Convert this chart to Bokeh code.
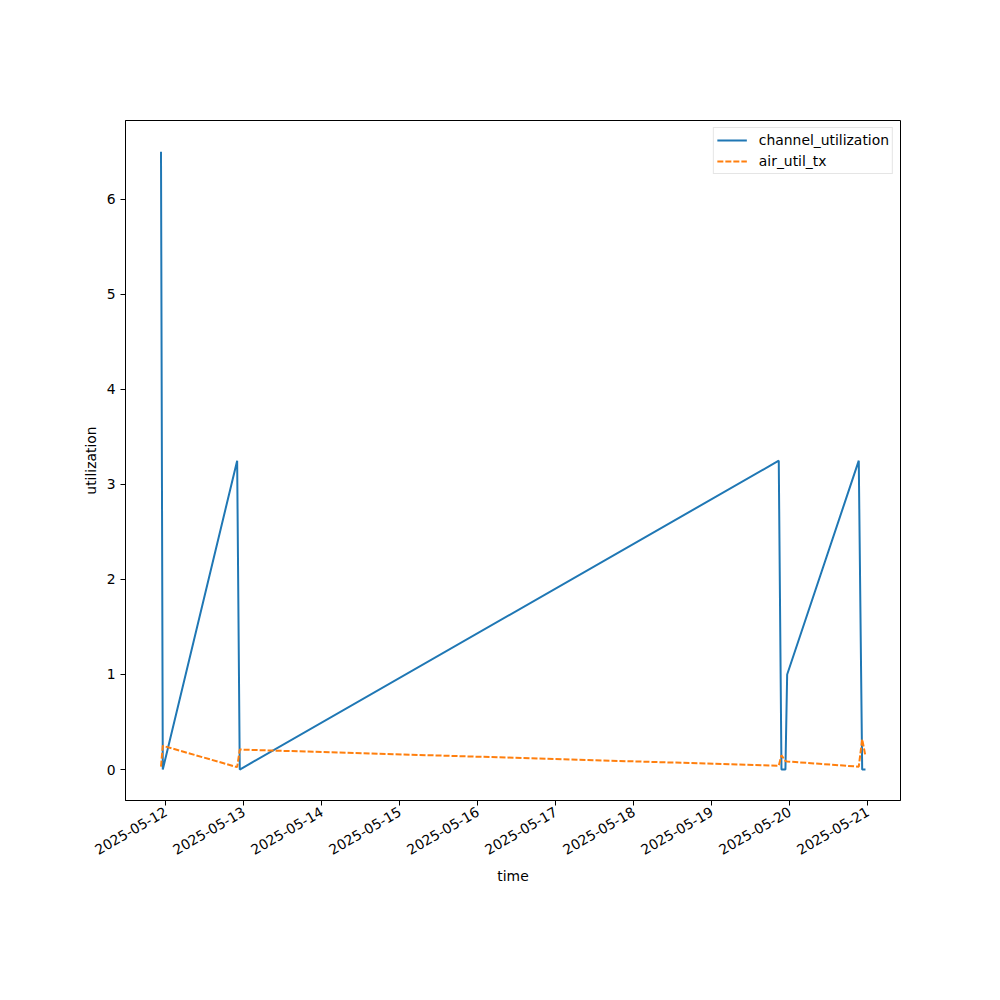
import math
import pandas as pd
from bokeh.plotting import figure
from bokeh.models import Range1d, DatetimeTickFormatter, FixedTicker, Legend, LegendItem
from bokeh.embed import file_html
from bokeh.resources import INLINE

times = ["2025-05-11 22:28", "2025-05-11 23:01", "2025-05-12 21:54", "2025-05-12 22:42",
         "2025-05-19 20:33", "2025-05-19 21:23", "2025-05-19 22:36", "2025-05-19 23:08",
         "2025-05-20 21:10", "2025-05-20 22:13", "2025-05-20 23:14"]
channel_utilization = [6.5, 0.0, 3.25, 0.0, 3.25, 0.0, 0.0, 1.0, 3.25, 0.0, 0.0]
air_util_tx = [0.03, 0.25, 0.025, 0.21, 0.04, 0.15, 0.09, 0.085, 0.03, 0.32, 0.14]
tick_days = ["2025-05-12", "2025-05-13", "2025-05-14", "2025-05-15", "2025-05-16",
             "2025-05-17", "2025-05-18", "2025-05-19", "2025-05-20", "2025-05-21"]
y_ticks = [0, 1, 2, 3, 4, 5, 6]

t = pd.to_datetime(times)
ticks_ms = [pd.Timestamp(d).value / 1e6 for d in tick_days]
day_ms = 86400000.0
x0 = ticks_ms[0]

FS = "13.9px"

p = figure(width=984, height=984, output_backend="svg", toolbar_location=None,
           x_axis_type="datetime",
           x_range=Range1d(x0 - 0.519 * day_ms, x0 + 9.417 * day_ms),
           y_range=Range1d(-0.326, 6.83))
p.min_border_left = 125
p.min_border_right = 84
p.min_border_top = 120
p.min_border_bottom = 184
p.xgrid.visible = False
p.ygrid.visible = False
p.outline_line_color = "black"
p.outline_line_width = 1

r1 = p.line(t, channel_utilization, line_color="#1f77b4", line_width=2)
r2 = p.line(t, air_util_tx, line_color="#ff7f0e", line_width=2, line_dash="6 2")

p.xaxis.ticker = FixedTicker(ticks=ticks_ms)
p.xaxis.formatter = DatetimeTickFormatter(days="%Y-%m-%d", months="%Y-%m-%d",
                                          hours="%Y-%m-%d", years="%Y-%m-%d")
p.xaxis.major_label_orientation = math.pi / 6
p.yaxis.ticker = FixedTicker(ticks=y_ticks)

for ax in [p.xaxis[0], p.yaxis[0]]:
    ax.major_tick_in = 0
    ax.major_tick_out = 5
    ax.minor_tick_in = 0
    ax.minor_tick_out = 0
    ax.axis_line_color = "black"
    ax.major_tick_line_color = "black"
    ax.major_label_text_font = "DejaVu Sans"
    ax.major_label_text_font_size = FS
    ax.major_label_text_color = "black"
    ax.axis_label_text_font = "DejaVu Sans"
    ax.axis_label_text_font_size = FS
    ax.axis_label_text_font_style = "normal"
    ax.axis_label_text_color = "black"

p.xaxis.axis_label = "time"
p.yaxis.axis_label = "utilization"

legend = Legend(items=[LegendItem(label="channel_utilization", renderers=[r1]),
                       LegendItem(label="air_util_tx", renderers=[r2])],
                location="top_right")
legend.label_text_font = "DejaVu Sans"
legend.label_text_font_size = FS
legend.label_text_color = "black"
legend.border_line_color = "#cccccc"
legend.background_fill_alpha = 0.8
legend.margin = 7
legend.padding = 3
legend.spacing = 3
legend.glyph_width = 30
legend.glyph_height = 18
legend.label_height = 18
legend.label_standoff = 12
p.add_layout(legend)

open("out.html", "w").write(file_html(p, INLINE))
